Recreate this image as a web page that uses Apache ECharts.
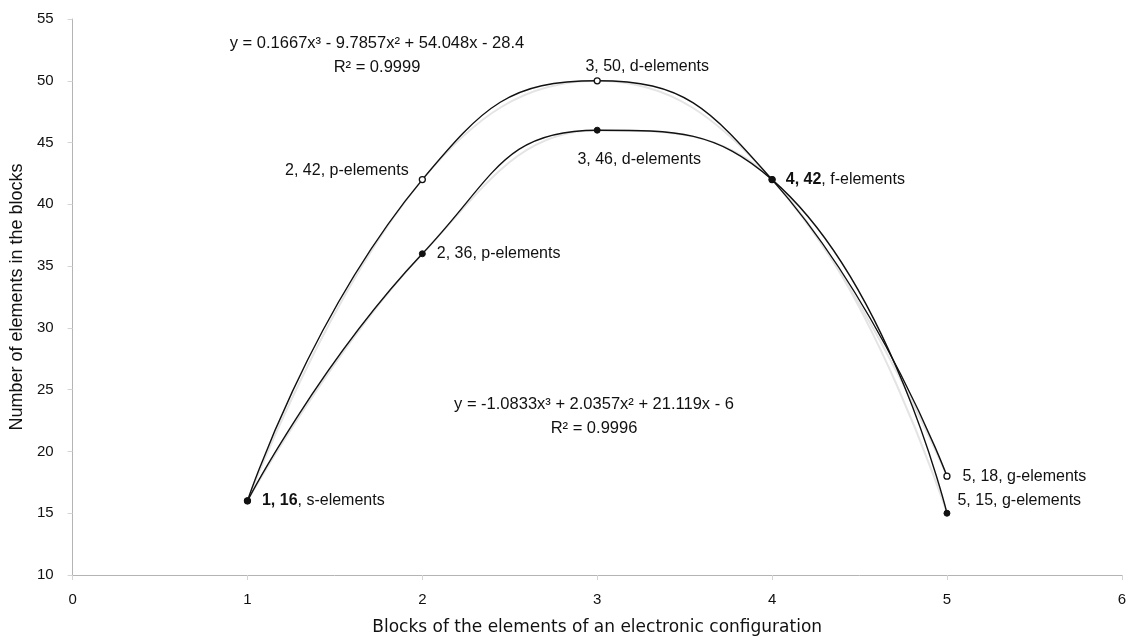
<!DOCTYPE html>
<html><head><meta charset="utf-8">
<script src="https://cdn.jsdelivr.net/npm/echarts@6/dist/echarts.min.js"></script>
<style>html,body{margin:0;padding:0;background:#fff;overflow:hidden}#c{width:1129px;height:641px}</style>
</head><body><div id="c"></div>
<script>
const blocks = [1, 2, 3, 4, 5];
const blockNames = ['s-elements', 'p-elements', 'd-elements', 'f-elements', 'g-elements'];
const openValues = [16, 42, 50, 42, 18];
const filledValues = [16, 36, 46, 42, 15];
const xTicks = [0, 1, 2, 3, 4, 5, 6];
const yTicks = [10, 15, 20, 25, 30, 35, 40, 45, 50, 55];
const eqOpen = 'y = 0.1667x³ - 9.7857x² + 54.048x - 28.4';
const r2Open = 'R² = 0.9999';
const eqFilled = 'y = -1.0833x³ + 2.0357x² + 21.119x - 6';
const r2Filled = 'R² = 0.9996';

const FONT = '"Liberation Sans", Arial, sans-serif';
const labelBase = {show: true, color: '#111', fontFamily: FONT, fontSize: 16};

const openLabelPos = [null, {position: 'left', offset: [-5, -9]}, {position: 'top', offset: [50, 2]}, {position: 'right', offset: [5, 0]}, {position: 'right', offset: [7, 0]}];
const filledLabelPos = [{position: 'right', offset: [6, 0]}, {position: 'right', offset: [6, 0]}, {position: 'bottom', offset: [42, 13]}, null, {position: 'right', offset: [2, -13]}];

function mkData(vals, posArr, boldIdx) {
  return blocks.map((b, i) => {
    const p = posArr[i];
    const d = {value: [b, vals[i]]};
    if (p) {
      const isBold = boldIdx.includes(i);
      d.label = Object.assign({}, labelBase, p, {
        formatter: isBold ? '{b|' + b + ', ' + vals[i] + '}, ' + blockNames[i] : b + ', ' + vals[i] + ', ' + blockNames[i],
        rich: {b: {fontWeight: 'bold', fontFamily: FONT, fontSize: 16, color: '#111'}}
      });
    } else {
      d.label = {show: false};
    }
    return d;
  });
}

const eqStyle = {fontFamily: FONT, fontSize: 16.5, fill: '#111', align: 'center', verticalAlign: 'middle'};

const chart = echarts.init(document.getElementById('c'));
chart.setOption({
  animation: false,
  grid: {left: 71, right: 3, top: 19, bottom: 64, containLabel: false},
  xAxis: {
    type: 'value', min: 0, max: 6, interval: 1,
    name: 'Blocks of the elements of an electronic configuration',
    nameLocation: 'middle', nameGap: 44,
    nameTextStyle: {fontFamily: '"DejaVu Sans", sans-serif', fontSize: 17, color: '#111'},
    axisLine: {show: true, lineStyle: {color: '#b4b4b4', width: 1}},
    axisTick: {show: true, length: 5, lineStyle: {color: '#d4d4d4'}},
    axisLabel: {color: '#111', fontFamily: FONT, fontSize: 15, margin: 17},
    splitLine: {show: false}
  },
  yAxis: {
    type: 'value', min: 10, max: 55, interval: 5,
    name: 'Number of elements in the blocks',
    nameLocation: 'middle', nameGap: 43, nameRotate: 90,
    nameTextStyle: {fontFamily: FONT, fontSize: 18, color: '#111'},
    axisLine: {show: true, lineStyle: {color: '#b4b4b4', width: 1}},
    axisTick: {show: true, length: 5, lineStyle: {color: '#d4d4d4'}},
    axisLabel: {color: '#111', fontFamily: FONT, fontSize: 15, margin: 19},
    splitLine: {show: false}
  },
  series: [
    {type: 'line', data: blocks.map((b, i) => [b, openValues[i]]), smooth: 0.42, symbol: 'none',
     lineStyle: {color: '#e4e4e4', width: 2}, z: 1, silent: true},
    {type: 'line', data: blocks.map((b, i) => [b, filledValues[i]]), smooth: 0.42, symbol: 'none',
     lineStyle: {color: '#e4e4e4', width: 2}, z: 1, silent: true},
    {type: 'line', data: mkData(openValues, openLabelPos, [3]), smooth: 0.5,
     symbol: 'circle', symbolSize: 6, showAllSymbol: true,
     itemStyle: {color: '#fff', borderColor: '#111', borderWidth: 1.3},
     lineStyle: {color: '#111', width: 1.4}, z: 3},
    {type: 'line', data: mkData(filledValues, filledLabelPos, [0]), smooth: 0.5,
     symbol: 'circle', symbolSize: 6, showAllSymbol: true,
     itemStyle: {color: '#111', borderColor: '#111', borderWidth: 1},
     lineStyle: {color: '#111', width: 1.4}, z: 3}
  ],
  graphic: [
    {type: 'text', x: 377, y: 43, style: Object.assign({text: eqOpen}, eqStyle)},
    {type: 'text', x: 377, y: 67, style: Object.assign({text: r2Open}, eqStyle)},
    {type: 'text', x: 594, y: 404, style: Object.assign({text: eqFilled}, eqStyle)},
    {type: 'text', x: 594, y: 428, style: Object.assign({text: r2Filled}, eqStyle)}
  ]
});
</script></body></html>
